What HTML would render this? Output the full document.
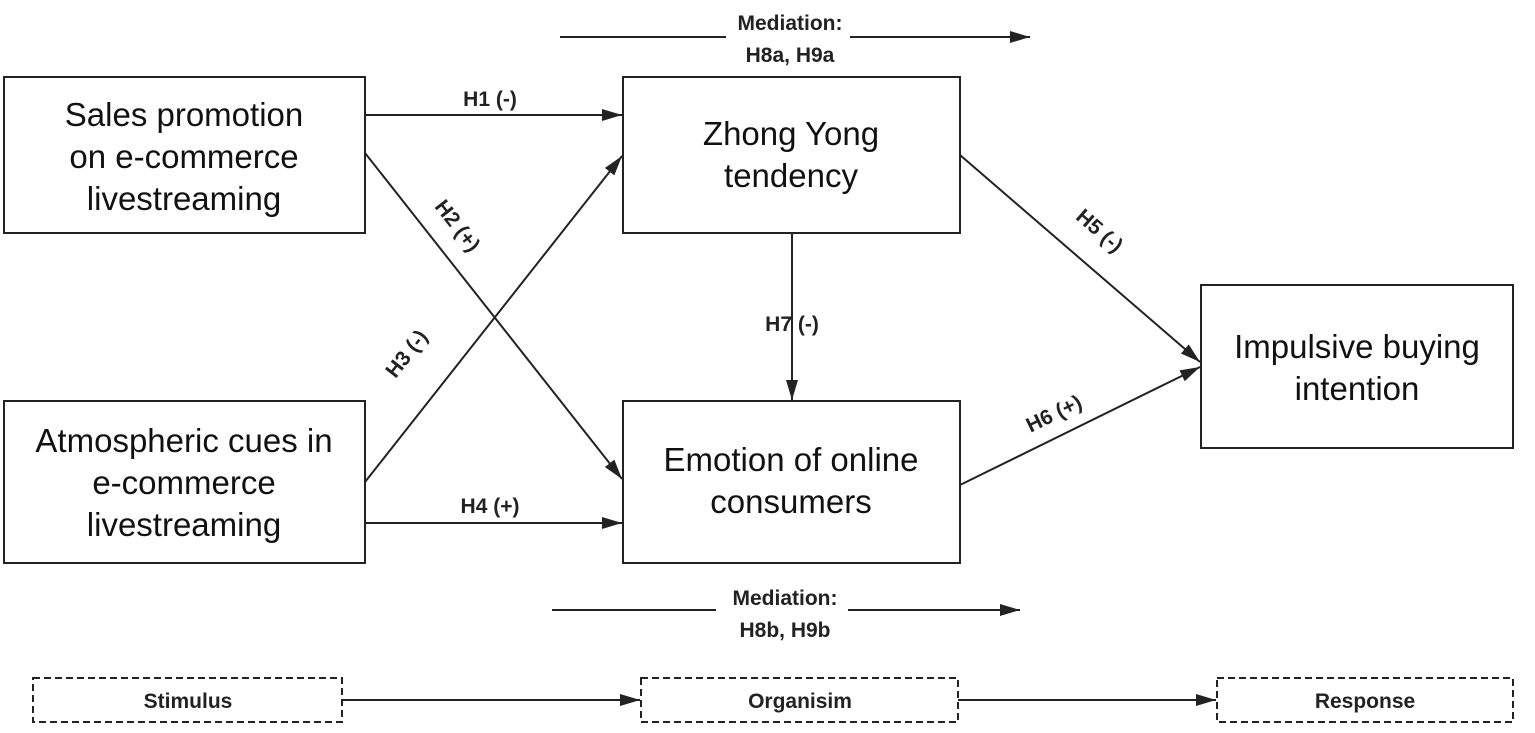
<!DOCTYPE html>
<html><head><style>
body{margin:0;background:#fff}
svg{display:block}
.t{font-family:"Liberation Sans",sans-serif;font-size:33px;fill:#111;text-anchor:middle}
.l{font-family:"Liberation Sans",sans-serif;font-size:21px;font-weight:bold;fill:#222;text-anchor:middle}
</style></head><body>
<svg width="1535" height="733" viewBox="0 0 1535 733">
<defs>
<marker id="b" markerWidth="20" markerHeight="12" refX="20" refY="6" orient="auto" markerUnits="userSpaceOnUse"><path d="M0,0 L20,6 L0,12z" fill="#222"/></marker></defs>
<g fill="none" stroke="#222" stroke-width="2">
<rect x="4" y="77" width="361" height="156"/>
<rect x="4" y="401" width="361" height="162"/>
<rect x="623" y="77" width="337" height="156"/>
<rect x="623" y="401" width="337" height="162"/>
<rect x="1201" y="285" width="312" height="163"/>
<g stroke-dasharray="7,4"><rect x="33" y="678" width="309" height="44"/><rect x="641" y="678" width="317" height="44"/><rect x="1217" y="678" width="296" height="44"/></g>
<g marker-end="url(#b)">
<line x1="365" y1="115" x2="622" y2="115"/>
<line x1="365" y1="153" x2="622" y2="479"/>
<line x1="365" y1="482" x2="622" y2="156"/>
<line x1="365" y1="523" x2="622" y2="523"/>
<line x1="792" y1="233" x2="792" y2="400"/>
<line x1="960" y1="155" x2="1200" y2="362"/>
<line x1="960" y1="485" x2="1200" y2="367"/>
<line x1="342" y1="700" x2="640" y2="700"/>
<line x1="958" y1="700" x2="1216" y2="700"/>
<line x1="850" y1="37" x2="1030" y2="37"/>
<line x1="848" y1="610" x2="1020" y2="610"/>
</g>
<line x1="560" y1="37" x2="726" y2="37"/>
<line x1="552" y1="610" x2="716" y2="610"/>
</g>
<text class="t" x="184" y="126">Sales promotion</text>
<text class="t" x="184" y="168">on e-commerce</text>
<text class="t" x="184" y="210">livestreaming</text>
<text class="t" x="184" y="452">Atmospheric cues in</text>
<text class="t" x="184" y="494">e-commerce</text>
<text class="t" x="184" y="536">livestreaming</text>
<text class="t" x="791" y="145">Zhong Yong</text>
<text class="t" x="791" y="187">tendency</text>
<text class="t" x="791" y="471">Emotion of online</text>
<text class="t" x="791" y="513">consumers</text>
<text class="t" x="1357" y="358">Impulsive buying</text>
<text class="t" x="1357" y="400">intention</text>
<text class="l" x="490" y="106">H1 (-)</text>
<text class="l" x="490" y="513">H4 (+)</text>
<text class="l" x="792" y="331">H7 (-)</text>
<text class="l" transform="translate(452,230) rotate(52)">H2 (+)</text>
<text class="l" transform="translate(412,358) rotate(-52)">H3 (-)</text>
<text class="l" transform="translate(1095,236) rotate(41)">H5 (-)</text>
<text class="l" transform="translate(1057,420) rotate(-26)">H6 (+)</text>
<text class="l" x="790" y="30">Mediation:</text>
<text class="l" x="790" y="62">H8a, H9a</text>
<text class="l" x="785" y="605">Mediation:</text>
<text class="l" x="785" y="637">H8b, H9b</text>
<text class="l" x="188" y="708">Stimulus</text>
<text class="l" x="800" y="708">Organisim</text>
<text class="l" x="1365" y="708">Response</text>
</svg>
</body></html>
